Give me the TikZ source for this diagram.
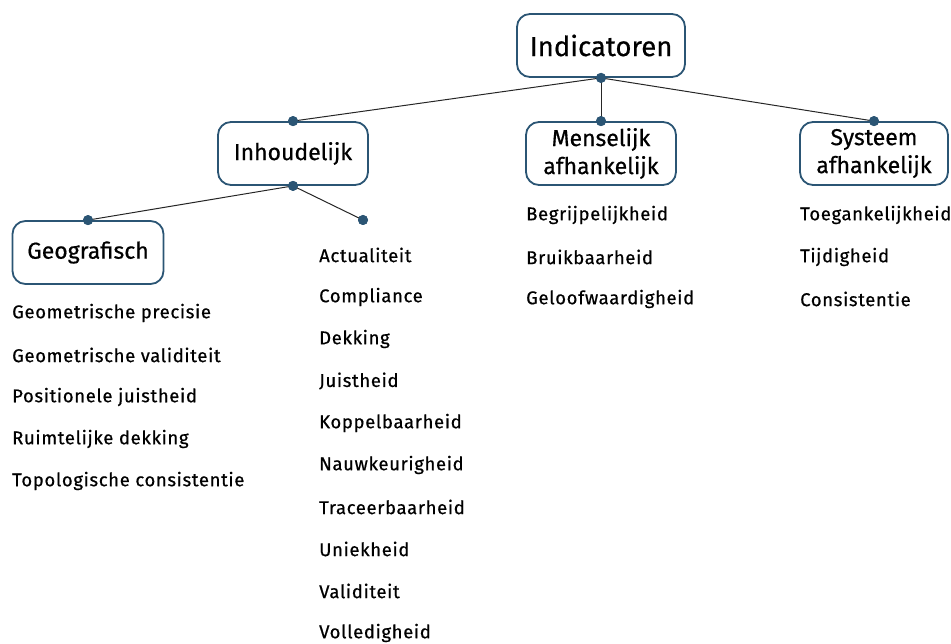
\documentclass[tikz,border=0pt]{standalone}
\usepackage{fontspec}
\setmainfont{Fira Sans}[FakeBold=0.6]
\begin{document}
\begin{tikzpicture}[x=1pt,y=-1pt,
  cat/.style={draw=boxblue,line width=1.8pt,rounded corners=13pt,fill=white,align=center,font=\fontsize{23}{28}\selectfont,inner sep=0pt},
  item/.style={anchor=west,inner sep=0pt,font=\fontsize{18.5}{20}\selectfont\addfontfeatures{LetterSpace=3.5}},
  dot/.style={circle,fill=boxblue,inner sep=0pt,minimum size=10pt},
  link/.style={line width=1pt,black!85}]
\definecolor{boxblue}{HTML}{2B5574}
\useasboundingbox (0,0) rectangle (951,644);
% boxes
\node[cat,minimum width=168pt,minimum height=63pt,font=\fontsize{27.5}{30}\selectfont] (ind) at (601,45.5) {Indicatoren};
\node[cat,minimum width=150pt,minimum height=63pt] (inh) at (293,153.5) {Inhoudelijk};
\node[cat,minimum width=150pt,minimum height=63pt] (men) at (601,153.5) {Menselijk\\afhankelijk};
\node[cat,minimum width=148pt,minimum height=63pt] (sys) at (874,153.5) {Systeem\\afhankelijk};
\node[cat,minimum width=151pt,minimum height=63pt] (geo) at (88,252.5) {Geografisch};
% dots
\node[dot] (d0) at (ind.south) {};
\node[dot] (d1) at (inh.north) {};
\node[dot] (d2) at (men.north) {};
\node[dot] (d3) at (sys.north) {};
\node[dot] (d4) at (inh.south) {};
\node[dot] (d5) at (geo.north) {};
\node[dot] (d6) at (363,220) {};
% links
\draw[link] (d0.center) -- (d1.center);
\draw[link] (d0.center) -- (d2.center);
\draw[link] (d0.center) -- (d3.center);
\draw[link] (d4.center) -- (d5.center);
\draw[link] (d4.center) -- (d6.center);
\foreach \d in {d0,d1,d2,d3,d4,d5,d6} \node[dot] at (\d) {};
% lists
\node[item] (g1) at (12,313) {Geometrische precisie};
\node[item] (g2) at (12,355) {Geometrische validiteit};
\node[item] (g3) at (12,397) {Positionele juistheid};
\node[item] (g4) at (12,439) {Ruimtelijke dekking};
\node[item] (g5) at (12,481) {Topologische consistentie};
\node[item] (a1) at (319,255) {Actualiteit};
\node[item] (a2) at (319,297) {Compliance};
\node[item] (a3) at (319,339) {Dekking};
\node[item] (a4) at (319,381) {Juistheid};
\node[item] (a5) at (319,423) {Koppelbaarheid};
\node[item] (a6) at (319,465) {Nauwkeurigheid};
\node[item] (a7) at (319,507) {Traceerbaarheid};
\node[item] (a8) at (319,549) {Uniekheid};
\node[item] (a9) at (319,591) {Validiteit};
\node[item] (a10) at (319,633) {Volledigheid};
\node[item] (m1) at (526,215) {Begrijpelijkheid};
\node[item] (m2) at (526,257) {Bruikbaarheid};
\node[item] (m3) at (526,299) {Geloofwaardigheid};
\node[item] (s1) at (800,215) {Toegankelijkheid};
\node[item] (s2) at (800,257) {Tijdigheid};
\node[item] (s3) at (800,299) {Consistentie};
\end{tikzpicture}
\end{document}
